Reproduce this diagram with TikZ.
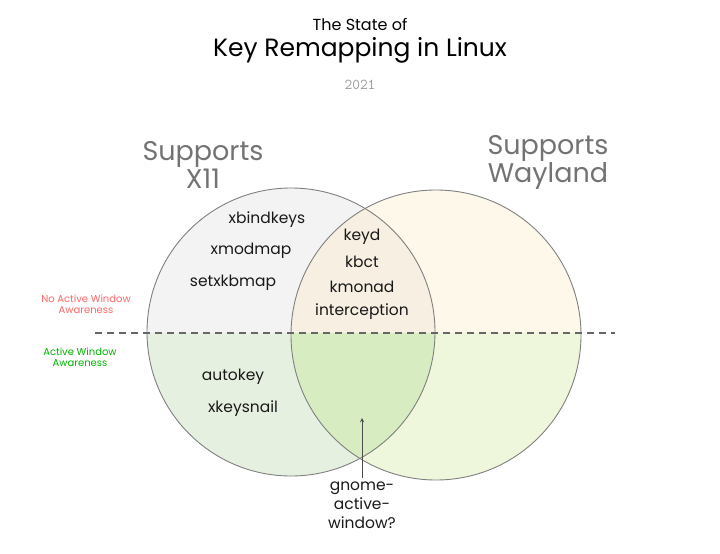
\documentclass[tikz,border=0pt]{standalone}
\usepackage{fontspec}
\setmainfont{Poppins}
\begin{document}
\begin{tikzpicture}[x=1pt,y=-1pt,
  lbl/.style={font=\fontsize{15.5}{18}\selectfont,text=black!90,align=center},
  big/.style={font=\fontsize{27}{27}\selectfont,text=black!55,align=center},
  circ/.style={draw=black!50,line width=0.9pt}]
\useasboundingbox (0,0) rectangle (720,554);
\definecolor{ulc}{HTML}{F3F3F3}\definecolor{urc}{HTML}{FDF8EA}\definecolor{uic}{HTML}{F6EFE2}
\definecolor{llc}{HTML}{E6F0E0}\definecolor{lrc}{HTML}{EEF7DC}\definecolor{lic}{HTML}{D8ECC2}
\begin{scope}\clip (0,0) rectangle (720,333);
 \fill[ulc] (291,332) circle (144);
 \fill[urc] (436,335) circle (145);
 \begin{scope}\clip (291,332) circle (144); \fill[uic] (436,335) circle (145);\end{scope}
\end{scope}
\begin{scope}\clip (0,333) rectangle (720,554);
 \fill[llc] (291,332) circle (144);
 \fill[lrc] (436,335) circle (145);
 \begin{scope}\clip (291,332) circle (144); \fill[lic] (436,335) circle (145);\end{scope}
\end{scope}
\node[circ,circle,minimum size=288pt,inner sep=0] (L) at (291,332) {};
\node[circ,circle,minimum size=290pt,inner sep=0] (R) at (436,335) {};
\coordinate (dl) at (95,333); \coordinate (dr) at (615,333);
\draw[black!60,dashed,dash pattern=on 7pt off 5pt,line width=1.2pt] (dl) -- (dr);
\node[font=\fontsize{16}{18}\selectfont] (t1) at (360,24) {The State of};
\node[font=\fontsize{25}{28}\selectfont] (t2) at (360,50) {Key Remapping in Linux};
\node[font=\ttfamily\fontsize{15}{16}\selectfont,text=black!40] (yr) at (360,85) {2021};
\node[big,font=\fontsize{27}{28}\selectfont] (x11) at (203,165) {Supports\\X11};
\node[big,font=\fontsize{27}{28}\selectfont] (wl) at (548,162) {Supports\\Wayland};
\node[font=\fontsize{10}{11}\selectfont,text=red!60!white,align=center] (na) at (86,304) {No Active Window\\Awareness};
\node[font=\fontsize{10}{11}\selectfont,text=green!70!black,align=center] (aa) at (80,357) {Active Window\\Awareness};
\node[lbl] (a1) at (267,220) {xbindkeys};
\node[lbl] (a2) at (251,251) {xmodmap};
\node[lbl] (a3) at (233,283) {setxkbmap};
\node[lbl] (b1) at (362,237) {keyd};
\node[lbl] (b2) at (362,262) {kbct};
\node[lbl] (b3) at (362,287) {kmonad};
\node[lbl] (b4) at (362,312) {interception};
\node[lbl] (c1) at (233,377) {autokey};
\node[lbl] (c2) at (243,409) {xkeysnail};
\node[lbl,font=\fontsize{15.5}{19}\selectfont] (g) at (362,505) {gnome-\\active-\\window?};
\coordinate (gt) at (362,418);
\draw[black!70,line width=0.9pt,-{stealth}] (g.north) -- (gt);
\end{tikzpicture}
\end{document}
